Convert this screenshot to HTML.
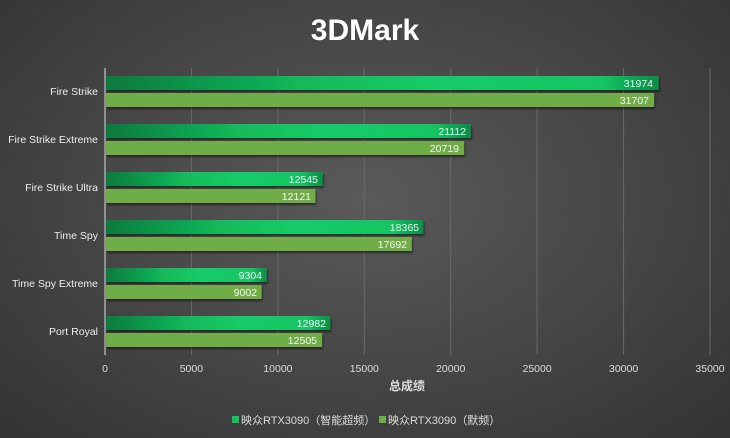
<!DOCTYPE html>
<html><head><meta charset="utf-8"><style>
body{margin:0;width:730px;height:438px;overflow:hidden;background:radial-gradient(ellipse at 50% 45%,#5a5a5a 0%,#454545 55%,#333 100%);font-family:"Liberation Sans","Noto Sans CJK SC",sans-serif;}
</style></head><body>
<svg width="730" height="438" xmlns="http://www.w3.org/2000/svg" style="position:absolute;left:0;top:0">
<defs>
<linearGradient id="g1" x1="0" x2="1" y1="0" y2="0">
<stop offset="0" stop-color="#0b7a3e"/><stop offset="0.35" stop-color="#12b85a"/><stop offset="0.6" stop-color="#16cc68"/><stop offset="0.9" stop-color="#13c463"/><stop offset="1" stop-color="#0c8c48"/>
</linearGradient>
<filter id="sh" x="-5%" y="-20%" width="110%" height="160%"><feDropShadow dx="1" dy="2" stdDeviation="1" flood-color="#000" flood-opacity="0.5"/></filter>
</defs>
<text x="365" y="40" text-anchor="middle" fill="#fff" font-size="30" font-weight="bold">3DMark</text>
<g stroke="#6a6a6a" stroke-width="1">
<line x1="191.4" y1="68" x2="191.4" y2="355"/><line x1="277.9" y1="68" x2="277.9" y2="355"/><line x1="364.3" y1="68" x2="364.3" y2="355"/><line x1="450.7" y1="68" x2="450.7" y2="355"/><line x1="537.1" y1="68" x2="537.1" y2="355"/><line x1="623.6" y1="68" x2="623.6" y2="355"/><line x1="710" y1="68" x2="710" y2="355"/>
</g>
<line x1="105" y1="68" x2="105" y2="355" stroke="#aaa" stroke-width="1.5"/>
<g font-size="10.5" fill="#ddd" text-anchor="middle">
<text x="105" y="372">0</text><text x="191.4" y="372">5000</text><text x="277.9" y="372">10000</text><text x="364.3" y="372">15000</text><text x="450.7" y="372">20000</text><text x="537.1" y="372">25000</text><text x="623.6" y="372">30000</text><text x="710" y="372">35000</text>
</g>
<text x="407" y="390" text-anchor="middle" fill="#ddd" font-size="12" font-weight="bold">总成绩</text>
<g font-size="10.5" fill="#eee" text-anchor="end">
<text x="98" y="95">Fire Strike</text><text x="98" y="143">Fire Strike Extreme</text><text x="98" y="191">Fire Strike Ultra</text><text x="98" y="239">Time Spy</text><text x="98" y="287">Time Spy Extreme</text><text x="98" y="335">Port Royal</text>
</g>
<g filter="url(#sh)">
<rect x="106" y="76" width="552.7" height="14" fill="url(#g1)"/><rect x="106" y="93" width="548.1" height="14" fill="#71ad47"/>
<rect x="106" y="124" width="364.9" height="14" fill="url(#g1)"/><rect x="106" y="141" width="358.1" height="14" fill="#71ad47"/>
<rect x="106" y="172" width="216.8" height="14" fill="url(#g1)"/><rect x="106" y="189" width="209.5" height="14" fill="#71ad47"/>
<rect x="106" y="220" width="317.4" height="14" fill="url(#g1)"/><rect x="106" y="237" width="305.8" height="14" fill="#71ad47"/>
<rect x="106" y="268" width="160.8" height="14" fill="url(#g1)"/><rect x="106" y="285" width="155.6" height="14" fill="#71ad47"/>
<rect x="106" y="316" width="224.4" height="14" fill="url(#g1)"/><rect x="106" y="333" width="216.1" height="14" fill="#71ad47"/>
</g>
<g font-size="10.5" fill="#f4f4f4" text-anchor="end">
<text x="653" y="87">31974</text><text x="649" y="104">31707</text>
<text x="466" y="135">21112</text><text x="459" y="152">20719</text>
<text x="318" y="183">12545</text><text x="311" y="200">12121</text>
<text x="419" y="231">18365</text><text x="407" y="248">17692</text>
<text x="262" y="279">9304</text><text x="257" y="296">9002</text>
<text x="326" y="327">12982</text><text x="317" y="344">12505</text>
</g>
<rect x="232" y="416" width="7" height="7" fill="#14c060"/>
<text x="241" y="424" fill="#ddd" font-size="11">映众RTX3090（智能超频）</text>
<rect x="379" y="416" width="7" height="7" fill="#71ad47"/>
<text x="388" y="424" fill="#ddd" font-size="11">映众RTX3090（默频）</text>
</svg>
</body></html>
